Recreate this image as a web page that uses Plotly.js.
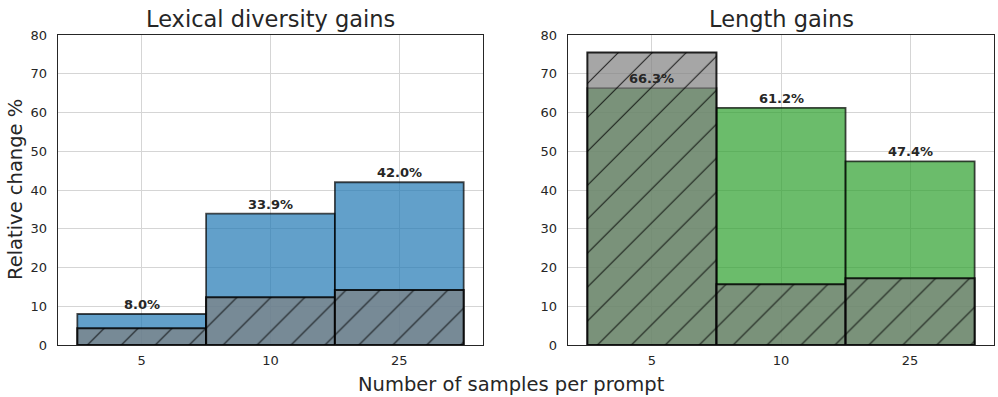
<!DOCTYPE html>
<html>
<head>
<meta charset="utf-8">
<script src="https://cdn.plot.ly/plotly-3.0.1.min.js"></script>
<style>html,body{margin:0;padding:0;background:#fff;}#chart{width:998px;height:397px;}</style>
</head>
<body>
<div id="chart"></div>
<script>
// Data
const categories = ['5', '10', '25'];
const lexicalGains = [8.0, 33.9, 42.0];
const lexicalBaseline = [4.3, 12.3, 14.2];
const lengthGains = [66.3, 61.2, 47.4];
const lengthBaseline = [75.5, 15.7, 17.2];
const leftTitle = 'Lexical diversity gains';
const rightTitle = 'Length gains';
const yTitle = 'Relative change %';
const xTitle = 'Number of samples per prompt';

const FONT = 'DejaVu Sans, sans-serif';
const TXT = '#262626';

function mainBar(y, color, xa, ya) {
  return {
    type: 'bar', x: categories, y: y, xaxis: xa, yaxis: ya, width: 1,
    marker: {color: color, line: {color: 'rgba(0,0,0,0.7)', width: 1.8}},
    hoverinfo: 'skip', showlegend: false
  };
}
function greyBar(y, xa, ya) {
  return {
    type: 'bar', x: categories, y: y, xaxis: xa, yaxis: ya, width: 1,
    marker: {color: 'rgba(128,128,128,0.7)', line: {color: 'rgba(0,0,0,0.85)', width: 2}},
    hoverinfo: 'skip', showlegend: false
  };
}
function hatchBar(y, xa, ya) {
  return {
    type: 'bar', x: categories, y: y, xaxis: xa, yaxis: ya, width: 1,
    marker: {
      color: 'rgba(0,0,0,0)',
      line: {color: 'rgba(0,0,0,0)', width: 0},
      pattern: {shape: '/', fgcolor: 'black', fgopacity: 0.8, bgcolor: 'rgba(0,0,0,0)', size: 24, solidity: 0.045}
    },
    hoverinfo: 'skip', showlegend: false
  };
}

const data = [
  mainBar(lexicalGains, 'rgba(31,119,180,0.7)', 'x', 'y'),
  greyBar(lexicalBaseline, 'x', 'y'),
  hatchBar(lexicalBaseline, 'x', 'y'),
  mainBar(lengthGains, 'rgba(44,160,44,0.7)', 'x2', 'y2'),
  greyBar(lengthBaseline, 'x2', 'y2'),
  hatchBar(lengthBaseline, 'x2', 'y2')
];

const annotations = [];
function labels(vals, xref, yref) {
  vals.forEach((v, i) => {
    annotations.push({
      x: i, y: v, xref: xref, yref: yref,
      text: '<b>' + v.toFixed(1) + '%</b>', showarrow: false,
      yanchor: 'bottom', yshift: 0,
      font: {family: FONT, size: 13, color: TXT}
    });
  });
}
labels(lexicalGains, 'x', 'y');
labels(lengthGains, 'x2', 'y2');

const yDom = [(397 - 345) / 397, (397 - 35) / 397];
annotations.push({text: leftTitle, xref: 'paper', yref: 'paper', x: 270.5 / 998, y: (397 - 19) / 397,
  xanchor: 'center', yanchor: 'middle', showarrow: false, font: {family: FONT, size: 22.5, color: TXT}});
annotations.push({text: rightTitle, xref: 'paper', yref: 'paper', x: 781 / 998, y: (397 - 19) / 397,
  xanchor: 'center', yanchor: 'middle', showarrow: false, font: {family: FONT, size: 22.5, color: TXT}});
annotations.push({text: xTitle, xref: 'paper', yref: 'paper', x: 511 / 998, y: (397 - 384) / 397,
  xanchor: 'center', yanchor: 'middle', showarrow: false, font: {family: FONT, size: 19.5, color: TXT}});
annotations.push({text: yTitle, xref: 'paper', yref: 'paper', x: 15 / 998, y: (397 - 190) / 397,
  xanchor: 'center', yanchor: 'middle', textangle: -90, showarrow: false, font: {family: FONT, size: 19.5, color: TXT}});

function xAxis(dom, anchor) {
  return {
    domain: dom, anchor: anchor, type: 'category', range: [-0.65, 2.65],
    showgrid: true, gridcolor: '#d5d5d5', gridwidth: 1,
    showline: true, linecolor: '#262626', linewidth: 1.3, mirror: true,
    ticks: '', ticklabelstandoff: 3, zeroline: false,
    tickfont: {family: FONT, size: 13, color: TXT}, automargin: false
  };
}
function yAxis(anchor) {
  return {
    domain: yDom, anchor: anchor, range: [0, 80], dtick: 10, tick0: 0,
    showgrid: true, gridcolor: '#d5d5d5', gridwidth: 1,
    showline: true, linecolor: '#262626', linewidth: 1.3, mirror: true,
    ticks: '', ticklabelstandoff: 7, zeroline: false,
    tickfont: {family: FONT, size: 13, color: TXT}, automargin: false
  };
}

const layout = {
  width: 998, height: 397,
  margin: {l: 0, r: 0, t: 0, b: 0},
  paper_bgcolor: 'white', plot_bgcolor: 'white',
  barmode: 'overlay',
  xaxis: xAxis([58 / 998, 483 / 998], 'y'),
  yaxis: yAxis('x'),
  xaxis2: xAxis([568 / 998, 994 / 998], 'y2'),
  yaxis2: yAxis('x2'),
  annotations: annotations,
  font: {family: FONT, color: TXT}
};

Plotly.newPlot('chart', data, layout, {staticPlot: true, displayModeBar: false});
</script>
</body>
</html>
